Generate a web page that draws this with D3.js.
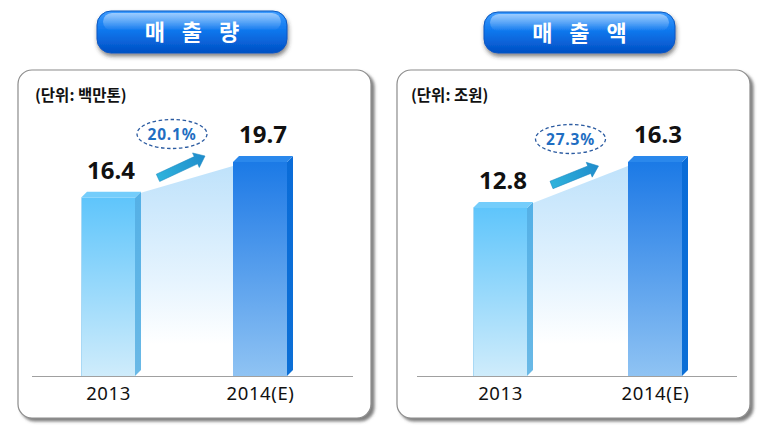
<!DOCTYPE html>
<html><head><meta charset="utf-8">
<script src="https://cdn.jsdelivr.net/npm/d3@7"></script>
<style>
html,body{margin:0;padding:0;background:#fff;}
svg{display:block;}
</style></head>
<body>
<svg id="chart" width="767" height="432"></svg>
<script>
// ---- data ----
const categories = ["2013", "2014(E)"];
const volumeValues = [16.4, 19.7];   // 매출량 (백만톤)
const salesValues = [12.8, 16.3];    // 매출액 (조원)
const panelTitles = ["매 출 량", "매 출 액"];
const unitLabels = ["(단위: 백만톤)", "(단위: 조원)"];
const growthLabels = ["20.1%", "27.3%"];
const valueLabels = [["16.4", "19.7"], ["12.8", "16.3"]];
const seriesValues = [volumeValues, salesValues];

// ---- layout ----
const layouts = [
  {box:[18, 70, 353, 348], btn:[97, 11, 190, 42], base:[32, 353], centers:[108, 260], unitX:35},
  {box:[397, 70, 353, 348], btn:[484, 12, 191, 41], base:[417, 737], centers:[500, 655], unitX:411}
];
const baselineY = 376, topY = 156, barW = 54, depth = 6;
const KR = "'Noto Sans CJK KR','Noto Sans',sans-serif";

const svg = d3.select("#chart");
const defs = svg.append("defs");

function grad(id, stops, x2=0, y2=1){
  const g = defs.append("linearGradient").attr("id", id)
    .attr("x1",0).attr("y1",0).attr("x2",x2).attr("y2",y2);
  stops.forEach(s => g.append("stop").attr("offset", s[0]).attr("stop-color", s[1]).attr("stop-opacity", s[2] ?? 1));
}
grad("btnG", [[0,"#3d9cff"],[0.45,"#0f78ee"],[1,"#024fc4"]]);
grad("btnHi", [[0,"#ffffff",0.5],[1,"#ffffff",0]]);
grad("bar0", [[0,"#5fc5fb"],[1,"#cfecfb"]]);
grad("bar1", [[0,"#1b7ae6"],[0.15,"#2e84e8"],[1,"#8fc3f3"]]);
grad("side0", [[0,"#54b0e6"],[1,"#6ab9e6"]]);
grad("side1", [[0,"#0a6cd8"],[1,"#0c6fd6"]]);
grad("shade", [[0,"#bfe2fb"],[0.55,"#e6f4fe"],[0.85,"#ffffff"]]);
grad("arrowG", [[0,"#2fb3dc"],[1,"#1f8ccc"]], 1, 0);

const shadowF = defs.append("filter").attr("id","sh").attr("x","-10%").attr("y","-10%").attr("width","130%").attr("height","140%");
shadowF.append("feDropShadow").attr("dx",3).attr("dy",3).attr("stdDeviation",1.5).attr("flood-color","#555").attr("flood-opacity",0.75);
const btnF = defs.append("filter").attr("id","bsh").attr("x","-10%").attr("y","-20%").attr("width","130%").attr("height","160%");
btnF.append("feDropShadow").attr("dx",1).attr("dy",3).attr("stdDeviation",2).attr("flood-color","#333").attr("flood-opacity",0.6);

layouts.forEach((L, p) => {
  const vals = seriesValues[p];
  const g = svg.append("g");

  // panel box
  g.append("rect").attr("x",L.box[0]).attr("y",L.box[1]).attr("width",L.box[2]).attr("height",L.box[3])
    .attr("rx",14).attr("fill","#fff").attr("stroke","#8c8c8c").attr("stroke-width",1.2).attr("filter","url(#sh)");

  // title button
  const [bx,by,bw,bh] = L.btn;
  g.append("rect").attr("x",bx).attr("y",by).attr("width",bw).attr("height",bh).attr("rx",14)
    .attr("fill","url(#btnG)").attr("stroke","#0a58c0").attr("stroke-width",1).attr("filter","url(#bsh)");
  g.append("rect").attr("x",bx+6).attr("y",by+2).attr("width",bw-12).attr("height",bh*0.42).attr("rx",9)
    .attr("fill","url(#btnHi)");
  g.append("text").attr("x",bx+bw/2+3).attr("y",by+bh/2+8).attr("text-anchor","middle")
    .attr("font-family",KR).attr("font-weight",700).attr("font-size",22).attr("fill","#fff")
    .attr("letter-spacing",6).attr("xml:space","preserve").text(panelTitles[p]);

  // unit
  g.append("text").attr("x",L.unitX).attr("y",101).attr("font-family",KR).attr("font-weight",700)
    .attr("font-size",15.5).attr("fill","#111").text(unitLabels[p]);

  // scales
  const x = d3.scalePoint().domain(categories).range(L.centers);
  const y = d3.scaleLinear().domain([0, d3.max(vals)]).range([baselineY, topY + depth]);

  // shaded connector
  const x0r = x(categories[0]) + barW/2 + depth;
  const x1l = x(categories[1]) - barW/2;
  g.append("path").attr("d", d3.line()([
      [x0r, y(vals[0]) - depth + 1], [x1l, y(vals[1]) + 4], [x1l, baselineY], [x0r, baselineY]
    ])+"Z").attr("fill","url(#shade)");

  // bars
  categories.forEach((c, i) => {
    const cx = x(c), xl = cx - barW/2, xr = cx + barW/2, yt = y(vals[i]);
    g.append("path").attr("d", d3.line()([[xr,yt],[xr+depth,yt-depth],[xr+depth,baselineY-depth],[xr,baselineY]])+"Z")
      .attr("fill", `url(#side${i})`);
    g.append("path").attr("d", d3.line()([[xl,yt],[xl+depth,yt-depth],[xr+depth,yt-depth],[xr,yt]])+"Z")
      .attr("fill", i === 0 ? "#74cdfb" : "#2a88ec");
    g.append("rect").attr("x",xl).attr("y",yt).attr("width",barW).attr("height",baselineY-yt)
      .attr("fill", `url(#bar${i})`);
    if (i === 0) g.append("line").attr("x1",xl+0.5).attr("x2",xl+0.5).attr("y1",yt).attr("y2",baselineY)
      .attr("stroke","#a9d9f5").attr("stroke-width",1);
    g.append("text").attr("x",cx+3).attr("y",yt-depth-13).attr("text-anchor","middle")
      .attr("font-family","'Noto Sans',sans-serif").attr("font-weight",700).attr("font-size",24)
      .attr("fill","#111").text(valueLabels[p][i]);
  });

  // baseline axis
  g.append("line").attr("x1",L.base[0]).attr("x2",L.base[1]).attr("y1",baselineY+0.5).attr("y2",baselineY+0.5)
    .attr("stroke","#a0a0a0").attr("stroke-width",1);
  const axis = d3.axisBottom(x).tickSize(0).tickPadding(6);
  const ag = g.append("g").attr("transform",`translate(0,${baselineY})`).call(axis);
  ag.select(".domain").remove();
  ag.selectAll("text").attr("font-family","'Noto Sans',sans-serif").attr("font-size",18.5)
    .attr("fill","#111").attr("letter-spacing",0.6).attr("dy","0.95em");

  // growth ellipse + arrow
  const mid = (x(categories[0]) + x(categories[1]))/2;
  const ex = mid - (p === 0 ? 12 : 7), ey = y(vals[1]) - depth - (p === 0 ? 22 : 17);
  g.append("ellipse").attr("cx",ex).attr("cy",ey).attr("rx",35).attr("ry",14.5)
    .attr("fill","none").attr("stroke","#2a5aa0").attr("stroke-width",1.3).attr("stroke-dasharray","3.5,2.5");
  g.append("text").attr("x",ex).attr("y",ey+5.5).attr("text-anchor","middle")
    .attr("font-family","'Noto Sans',sans-serif").attr("font-weight",700).attr("font-size",15.5)
    .attr("fill","#1f6ec2").attr("letter-spacing",0.8).text(growthLabels[p]);

  const tail = [mid - 26, y(vals[0]) - depth - (p === 0 ? 14 : 17)];
  const head = [mid + 21, y(vals[1]) - depth + (p === 0 ? 0 : 10)];
  const ang = Math.atan2(head[1]-tail[1], head[0]-tail[0]) * 180/Math.PI;
  const len = Math.hypot(head[0]-tail[0], head[1]-tail[1]);
  const ag2 = g.append("g").attr("transform",`translate(${tail[0]},${tail[1]}) rotate(${ang})`);
  ag2.append("path").attr("d", d3.line()([[0,-4],[len-10,-4],[len-10,-8],[len,0],[len-10,8],[len-10,4],[0,4]])+"Z")
    .attr("fill","url(#arrowG)").attr("stroke","#1a86c0").attr("stroke-width",0.5);
});
</script>
</body></html>
